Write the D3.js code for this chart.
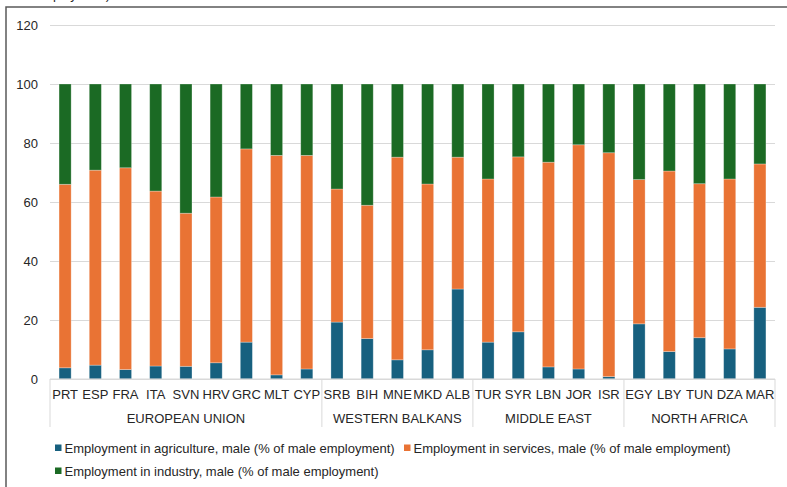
<!DOCTYPE html>
<html>
<head>
<meta charset="utf-8">
<script src="https://cdn.jsdelivr.net/npm/d3@7"></script>
<style>
  html, body { margin: 0; padding: 0; background: #fff; }
  svg { display: block; font-family: "Liberation Sans", Arial, sans-serif; }
</style>
</head>
<body>
<svg id="chart" width="787" height="487"></svg>
<script>
// Male employment by sector, share of total male employment (%)
const countries = ["PRT","ESP","FRA","ITA","SVN","HRV","GRC","MLT","CYP",
                   "SRB","BIH","MNE","MKD","ALB",
                   "TUR","SYR","LBN","JOR","ISR",
                   "EGY","LBY","TUN","DZA","MAR"];
const regions = ["EUROPEAN UNION","EUROPEAN UNION","EUROPEAN UNION","EUROPEAN UNION","EUROPEAN UNION",
                 "EUROPEAN UNION","EUROPEAN UNION","EUROPEAN UNION","EUROPEAN UNION",
                 "WESTERN BALKANS","WESTERN BALKANS","WESTERN BALKANS","WESTERN BALKANS","WESTERN BALKANS",
                 "MIDDLE EAST","MIDDLE EAST","MIDDLE EAST","MIDDLE EAST","MIDDLE EAST",
                 "NORTH AFRICA","NORTH AFRICA","NORTH AFRICA","NORTH AFRICA","NORTH AFRICA"];
const agriculture = [3.8, 4.7, 3.2, 4.4, 4.3, 5.5, 12.5, 1.4, 3.4,
                     19.3, 13.7, 6.5, 9.9, 30.5,
                     12.5, 16.0, 4.1, 3.4, 0.8,
                     18.7, 9.3, 14.0, 10.2, 24.3];
const services    = [62.2, 66.1, 68.4, 59.3, 51.9, 56.2, 65.5, 74.4, 72.4,
                     45.1, 45.2, 68.7, 56.2, 44.7,
                     55.3, 59.3, 69.4, 76.0, 75.9,
                     48.9, 61.2, 52.2, 57.6, 48.6];
const industry    = [34.0, 29.2, 28.4, 36.3, 43.8, 38.3, 22.0, 24.2, 24.2,
                     35.6, 41.1, 24.8, 33.9, 24.8,
                     32.2, 24.7, 26.5, 20.6, 23.3,
                     32.4, 29.5, 33.8, 32.2, 27.1];
const seriesNames = ["Employment in agriculture, male (% of male employment)",
                     "Employment in services, male (% of male employment)",
                     "Employment in industry, male (% of male employment)"];
const seriesColors = ["#17607f", "#e97334", "#1b6a24"];
const yTicks = [0, 20, 40, 60, 80, 100, 120];

const svg = d3.select("#chart");
const plot = { left: 50, right: 775, top: 25, bottom: 379 };

// Outer frame (top and left edges)
svg.append("path")
  .attr("d", "M6,487V7H787")
  .attr("fill", "none")
  .attr("stroke", "#595959")
  .attr("stroke-width", 1.5);

// Axis title, mostly above the visible area
svg.append("text")
  .attr("x", 110).attr("y", -0.8)
  .attr("text-anchor", "end")
  .attr("font-size", 13)
  .attr("fill", "#262626")
  .text("(% of male employment)");

const x = d3.scaleBand()
  .domain(countries)
  .range([plot.left, plot.right])
  .paddingInner(0.6)
  .paddingOuter(0.3);

const y = d3.scaleLinear()
  .domain([0, 120])
  .range([plot.bottom, plot.top]);

// Gridlines and y labels
const yAxis = d3.axisLeft(y)
  .tickValues(yTicks)
  .tickSize(-(plot.right - plot.left))
  .tickPadding(12);
const gy = svg.append("g")
  .attr("transform", `translate(${plot.left},0)`)
  .call(yAxis);
gy.select(".domain").remove();
gy.selectAll(".tick line").attr("stroke", "#d9d9d9").attr("stroke-width", 1);
gy.selectAll(".tick text")
  .attr("font-size", 13)
  .attr("font-family", "Liberation Sans, Arial, sans-serif")
  .attr("fill", "#262626");

// Stacked bars
const rows = countries.map((c, i) => ({
  country: c, agriculture: agriculture[i], services: services[i], industry: industry[i]
}));
const keys = ["agriculture", "services", "industry"];
const stacked = d3.stack().keys(keys)(rows);

svg.append("g").selectAll("g")
  .data(stacked)
  .join("g")
  .attr("fill", (d, i) => seriesColors[i])
  .selectAll("rect")
  .data(d => d)
  .join("rect")
  .attr("x", d => x(d.data.country))
  .attr("width", x.bandwidth())
  .attr("y", d => y(d[1]))
  .attr("height", d => y(d[0]) - y(d[1]))
  .attr("stroke", "rgba(255,255,255,0.35)")
  .attr("stroke-width", 0.8);

// Category axis: baseline, country labels, region groups
const gx = svg.append("g");
gx.append("line")
  .attr("x1", plot.left).attr("x2", plot.right)
  .attr("y1", plot.bottom).attr("y2", plot.bottom)
  .attr("stroke", "#d9d9d9");

gx.selectAll("text.country")
  .data(countries)
  .join("text")
  .attr("class", "country")
  .attr("x", d => x(d) + x.bandwidth() / 2)
  .attr("y", 399)
  .attr("text-anchor", "middle")
  .attr("font-size", 13)
  .attr("fill", "#262626")
  .text(d => d);

// Region groups from consecutive entries
const groups = [];
regions.forEach((r, i) => {
  const last = groups[groups.length - 1];
  if (last && last.name === r) last.end = i;
  else groups.push({ name: r, start: i, end: i });
});
const step = x.step();
const edgeL = i => x(countries[i]) - step * x.paddingInner() / 2 - (i === 0 ? step * (x.paddingOuter() - x.paddingInner() / 2) : 0);
const groupLeft = g => g.start === 0 ? plot.left : x(countries[g.start]) - step * x.paddingInner() / 2;
const groupRight = g => g.end === countries.length - 1 ? plot.right : x(countries[g.end]) + x.bandwidth() + step * x.paddingInner() / 2;

const dividers = [plot.left].concat(groups.map(groupRight));
gx.selectAll("line.div")
  .data(dividers)
  .join("line")
  .attr("class", "div")
  .attr("x1", d => d).attr("x2", d => d)
  .attr("y1", plot.bottom).attr("y2", 427)
  .attr("stroke", "#d9d9d9");

gx.selectAll("text.region")
  .data(groups)
  .join("text")
  .attr("class", "region")
  .attr("x", g => (groupLeft(g) + groupRight(g)) / 2)
  .attr("y", 423)
  .attr("text-anchor", "middle")
  .attr("font-size", 13)
  .attr("fill", "#262626")
  .text(g => g.name);

// Legend
const legendPos = [
  { x: 55, y: 448 },
  { x: 404, y: 448 },
  { x: 55, y: 471 }
];
const lg = svg.append("g").selectAll("g")
  .data(seriesNames)
  .join("g")
  .attr("transform", (d, i) => `translate(${legendPos[i].x},${legendPos[i].y})`);
lg.append("rect")
  .attr("x", 0).attr("y", -3.5)
  .attr("width", 6.5).attr("height", 6.5)
  .attr("fill", (d, i) => seriesColors[i]);
lg.append("text")
  .attr("x", 9.5)
  .attr("y", 0)
  .attr("dy", "0.35em")
  .attr("font-size", 13)
  .attr("fill", "#262626")
  .text(d => d);
</script>
</body>
</html>
